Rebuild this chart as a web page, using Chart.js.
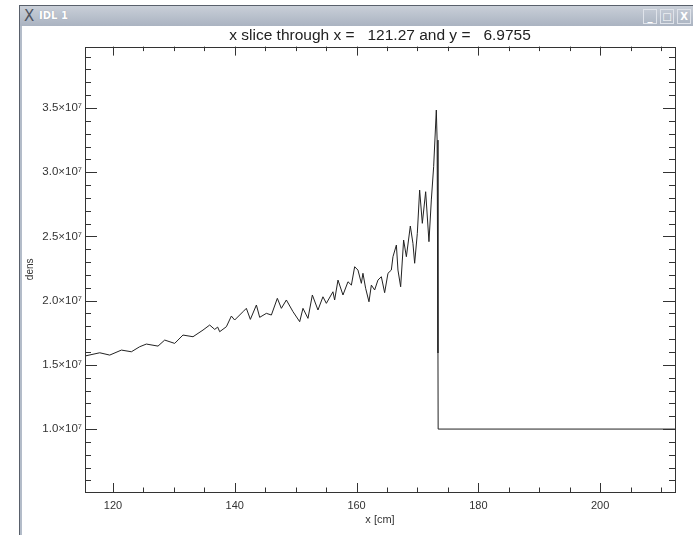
<!DOCTYPE html>
<html lang="en">
<head>
  <meta charset="UTF-8" />
  <title>IDL 1</title>
  <script src="https://cdn.jsdelivr.net/npm/chart.js"></script>
  <style>
    body { margin: 0; width: 693px; height: 535px; overflow: hidden; background: #fff; position: relative; font-family: "Liberation Sans", Arial, sans-serif; }
    /* window chrome */
    .titlebar { position: absolute; left: 19px; top: 5px; width: 674px; height: 21px;
      background: linear-gradient(#c9cfd8, #aab3c1); border-top: 1px solid #59606b; border-left: 1px solid #59606b; box-sizing: border-box; }
    .titlebar .logo { position: absolute; left: 4px; top: 1px; font: 15px "DejaVu Sans", sans-serif; color: #4d5360; }
    .titlebar .name { position: absolute; left: 19px; top: 4px; font: bold 10px "DejaVu Sans", sans-serif; color: #fff; text-shadow: 0 0 1px #8a93a2; }
    .btn { position: absolute; top: 3px; width: 14px; height: 15px; border: 1px solid #dfe3ea; box-sizing: border-box;
      background: linear-gradient(#c2c9d4, #aeb7c4); color: #fff; font: bold 10px "DejaVu Sans", sans-serif; text-align: center; line-height: 13px; }
    .leftbar { position: absolute; left: 19px; top: 26px; width: 3px; height: 509px;
      background: linear-gradient(to right, #59606b 0, #59606b 1px, #b3bcc9 1px); }
    #chart { position: absolute; left: 0; top: 0; z-index: 2; }
  </style>
</head>
<body>

  <div class="titlebar">
    <span class="logo">X</span>
    <span class="name">IDL 1</span>
    <div class="btn" style="left:623px">_</div>
    <div class="btn" style="left:640px">□</div>
    <div class="btn" style="left:657px">X</div>
  </div>
  <div class="leftbar"></div>

  <canvas id="chart" width="693" height="535"></canvas>

  <script>
    // density slice
    const densX = [115.40, 117.82, 119.46, 121.38, 123.02, 124.38, 125.48, 127.39, 128.49, 130.13,
                   131.49, 133.14, 134.78, 135.88, 136.70, 137.19, 137.52, 138.62, 139.44, 139.98,
                   141.35, 141.90, 142.56, 143.55, 144.09, 145.19, 146.01, 146.99, 147.65, 148.47,
                   149.56, 150.66, 151.20, 152.02, 152.74, 153.66, 154.48, 155.04, 156.12, 156.40,
                   156.95, 157.77, 158.59, 159.15, 159.69, 160.23, 160.79, 161.05, 161.49, 162.04,
                   162.43, 162.97, 163.51, 164.07, 164.61, 165.16, 165.71, 165.98, 166.54, 166.80,
                   167.24, 167.73, 168.18, 168.83, 169.26, 169.54, 169.98, 170.36, 170.80, 171.35,
                   171.89, 172.28, 172.66, 173.10, 173.23, 173.37, 173.40, 212.30];
    const densY = [1.569e7, 1.594e7, 1.576e7, 1.615e7, 1.602e7, 1.641e7, 1.662e7, 1.646e7, 1.693e7, 1.667e7,
                   1.732e7, 1.719e7, 1.771e7, 1.810e7, 1.776e7, 1.794e7, 1.758e7, 1.797e7, 1.880e7, 1.849e7,
                   1.914e7, 1.940e7, 1.854e7, 1.966e7, 1.870e7, 1.901e7, 1.888e7, 2.018e7, 1.940e7, 2.005e7,
                   1.914e7, 1.836e7, 1.940e7, 1.862e7, 2.044e7, 1.927e7, 2.030e7, 1.979e7, 2.069e7, 2.005e7,
                   2.160e7, 2.044e7, 2.147e7, 2.121e7, 2.264e7, 2.238e7, 2.135e7, 2.213e7, 2.096e7, 1.991e7,
                   2.121e7, 2.083e7, 2.160e7, 2.186e7, 2.062e7, 2.213e7, 2.238e7, 2.342e7, 2.433e7, 2.238e7,
                   2.108e7, 2.472e7, 2.342e7, 2.581e7, 2.446e7, 2.291e7, 2.524e7, 2.861e7, 2.602e7, 2.848e7,
                   2.459e7, 2.784e7, 3.043e7, 3.484e7, 3.250e7, 1.592e7, 1.000e7, 1.000e7];

    const xTicks = [120, 140, 160, 180, 200];
    const yTicks = [1.0e7, 1.5e7, 2.0e7, 2.5e7, 3.0e7, 3.5e7];
    const yTickLabels = ['1.0×10⁷', '1.5×10⁷', '2.0×10⁷', '2.5×10⁷', '3.0×10⁷', '3.5×10⁷'];
    const xMinorStep = 5;
    const yMinorStep = 1e6;

    const labelFont = { family: '"Liberation Sans", Arial, sans-serif', size: 11 };

    // IDL style box with inward ticks on all four sides
    const idlAxes = {
      id: 'idlAxes',
      afterDatasetsDraw(chart) {
        const { ctx, chartArea: a, scales: { x, y } } = chart;
        ctx.save();
        ctx.strokeStyle = '#333';
        ctx.lineWidth = 1;
        ctx.strokeRect(Math.round(a.left) + 0.5, Math.round(a.top) + 0.5,
                       Math.round(a.right - a.left), Math.round(a.bottom - a.top));
        ctx.beginPath();
        for (let v = Math.ceil(x.min / xMinorStep) * xMinorStep; v <= x.max; v += xMinorStep) {
          const px = Math.round(x.getPixelForValue(v)) + 0.5;
          const len = xTicks.includes(v) ? 9 : 4.5;
          ctx.moveTo(px, a.bottom); ctx.lineTo(px, a.bottom - len);
          ctx.moveTo(px, a.top); ctx.lineTo(px, a.top + len);
        }
        for (let i = Math.ceil(y.min / yMinorStep); i * yMinorStep <= y.max; i++) {
          const v = i * yMinorStep;
          const py = Math.round(y.getPixelForValue(v)) + 0.5;
          const len = yTicks.some(t => Math.abs(t - v) < 1) ? 12 : 6;
          ctx.moveTo(a.left, py); ctx.lineTo(a.left + len, py);
          ctx.moveTo(a.right, py); ctx.lineTo(a.right - len, py);
        }
        ctx.stroke();
        ctx.restore();
      }
    };

    new Chart(document.getElementById('chart'), {
      type: 'scatter',
      data: {
        datasets: [{
          label: 'dens',
          data: densX.map((v, i) => ({ x: v, y: densY[i] })),
          showLine: true,
          borderColor: '#222',
          borderWidth: 1,
          pointRadius: 0,
          tension: 0
        }]
      },
      options: {
        responsive: false,
        devicePixelRatio: 1,
        animation: false,
        layout: { padding: { left: 0, right: 18, top: 0, bottom: 0 } },
        plugins: {
          legend: { display: false },
          tooltip: { enabled: false },
          title: {
            display: true,
            fullSize: false,
            text: 'x slice through x =   121.27 and y =   6.9755',
            color: '#222',
            font: { family: labelFont.family, size: 15.5, weight: 'normal' },
            padding: { top: 26, bottom: 2 }
          }
        },
        scales: {
          x: {
            type: 'linear',
            min: 115.4,
            max: 212.3,
            afterBuildTicks: s => { s.ticks = xTicks.map(v => ({ value: v })); },
            afterFit: s => { s.height = 43; },
            grid: { display: false, drawTicks: false, tickLength: 0 },
            border: { display: false },
            ticks: { color: '#333', font: labelFont, padding: 7, maxRotation: 0, autoSkip: false },
            title: { display: true, text: 'x [cm]', color: '#333', font: labelFont, padding: { top: 0, bottom: 8 } }
          },
          y: {
            type: 'linear',
            min: 0.51e7,
            max: 3.978e7,
            afterBuildTicks: s => { s.ticks = yTicks.map(v => ({ value: v })); },
            afterFit: s => { s.width = 85; },
            grid: { display: false, drawTicks: false, tickLength: 0 },
            border: { display: false },
            ticks: {
              color: '#333', font: { family: labelFont.family, size: 11.5 }, padding: 3, autoSkip: false,
              callback: v => yTickLabels[yTicks.findIndex(t => Math.abs(t - v) < 1)]
            },
            title: { display: true, text: 'dens', color: '#333', font: { family: labelFont.family, size: 10 }, padding: { top: 24, bottom: 0 } }
          }
        }
      },
      plugins: [idlAxes]
    });
  </script>

</body>
</html>
